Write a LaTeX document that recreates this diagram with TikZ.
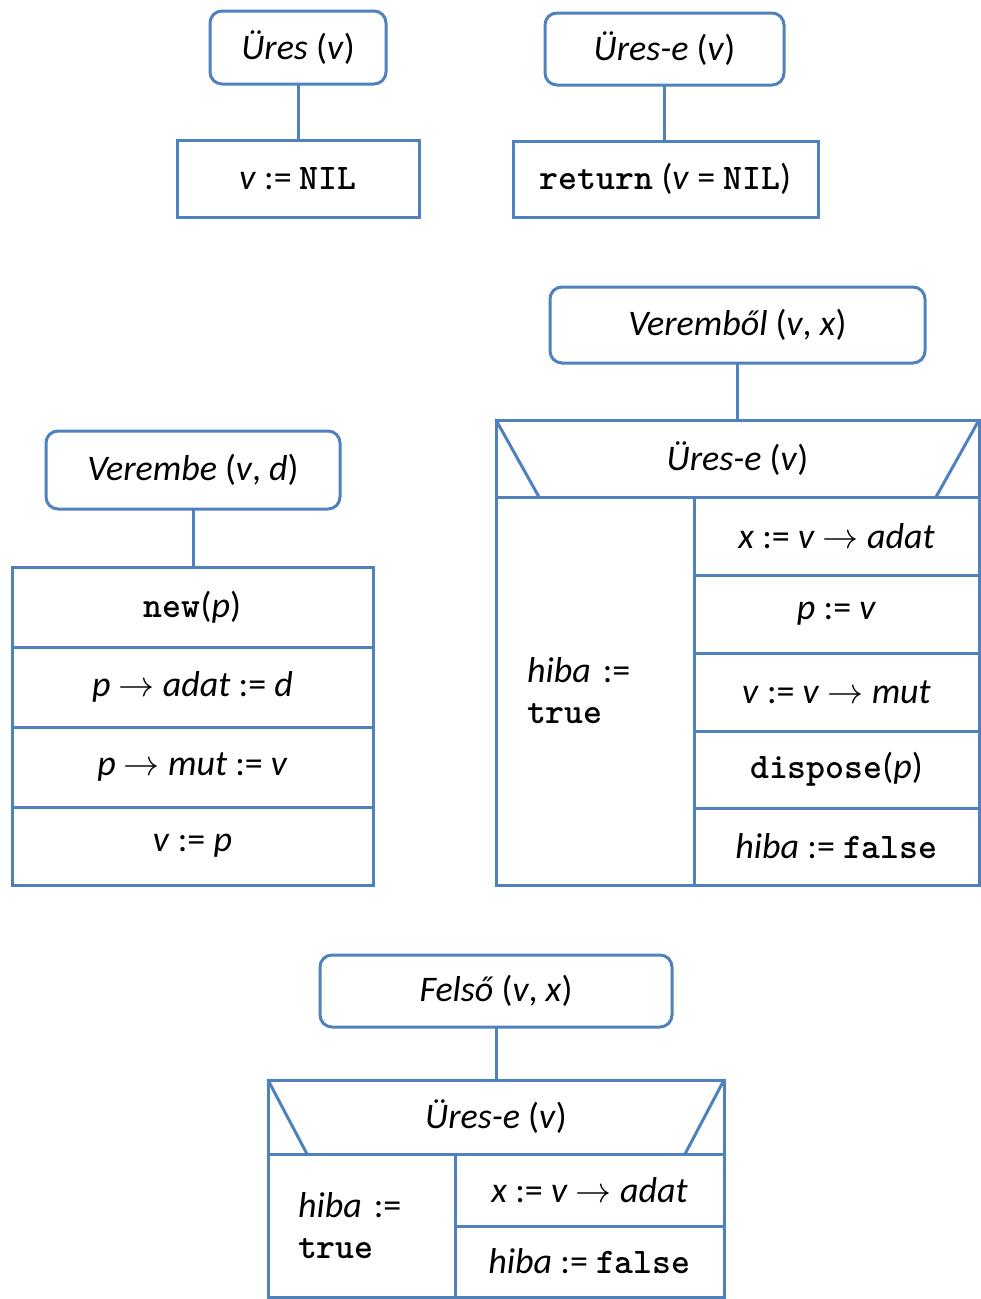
\RequirePackage{fix-cm}
\documentclass[tikz,border=0pt]{standalone}
\usepackage{fontspec}
\setmainfont{Carlito}
\usetikzlibrary{calc}
\definecolor{nsblue}{RGB}{79,129,189}
\newcommand{\iv}[1]{\textit{#1}}
\newcommand{\kw}[1]{{\ttfamily\bfseries #1}}
\newcommand{\arr}{\ensuremath{\rightarrow}}
\tikzset{
  every node/.style={font=\fontsize{36}{41}\selectfont, inner sep=0pt, outer sep=0pt},
  cell/.style 2 args={draw=nsblue, line width=3pt, rectangle,
    minimum width=#1, minimum height=#2},
  head/.style 2 args={cell={#1}{#2}, rounded corners=12pt},
  sidecell/.style n args={3}{cell={#1}{#2}, align=left, text width=#3},
  conn/.style={draw=nsblue, line width=3pt},
  slant/.style={draw=nsblue, line width=3pt, line cap=round},
}
\begin{document}
\begin{tikzpicture}[x=1pt, y=-1pt]
\useasboundingbox (0,0) rectangle (981,1299);

% Üres
\node[head={176}{73}] (uresH) at (298,47.5) {\iv{Üres} (\iv{v})};
\node[cell={242}{77}] (uresB) at (298,178.5) {\iv{v} := \kw{NIL}};
\draw[conn] (uresH.south) -- (uresH.south |- uresB.north);

% Üres-e
\node[head={239}{72}] (ureseH) at (664.5,49) {\iv{Üres-e} (\iv{v})};
\node[cell={305}{76}] (ureseB) at (665.5,179) {\kw{return} (\iv{v} = \kw{NIL})};
\draw[conn] (ureseH.south) -- (ureseH.south |- ureseB.north);

% Verembe
\node[head={294}{78}] (vbeH) at (193,470) {\iv{Verembe} (\iv{v}, \iv{d})};
\node[cell={361}{80}] (vbe1) at (192.5,607) {\kw{new}(\iv{p})};
\node[cell={361}{80}] (vbe2) at (192.5,687) {\iv{p} \arr\ \iv{adat} := \iv{d}};
\node[cell={361}{80}] (vbe3) at (192.5,767) {\iv{p} \arr\ \iv{mut} := \iv{v}};
\node[cell={361}{78}] (vbe4) at (192.5,846) {\iv{v} := \iv{p}};
\draw[conn] (vbeH.south) -- (vbeH.south |- vbe1.north);

% Veremből
\node[head={375}{76}] (vbolH) at (737.5,325) {\iv{Veremből} (\iv{v}, \iv{x})};
\node[cell={483}{77}] (vbolC) at (737.5,458.5) {\iv{Üres-e} (\iv{v})};
\draw[slant] (vbolC.north west) -- ($(vbolC.south west)+(43,0)$);
\draw[slant] (vbolC.north east) -- ($(vbolC.south east)+(-43,0)$);
\node[sidecell={198}{388}{136}] (vbolL) at (595,691) {\iv{hiba} :=\\\kw{true}};
\node[cell={285}{78}] (vbol1) at (836.5,536) {\iv{x} := \iv{v} \arr\ \iv{adat}};
\node[cell={285}{78}] (vbol2) at (836.5,614) {\iv{p} := \iv{v}};
\node[cell={285}{78}] (vbol3) at (836.5,692) {\iv{v} := \iv{v} \arr\ \iv{mut}};
\node[cell={285}{77}] (vbol4) at (836.5,769.5) {\kw{dispose}(\iv{p})};
\node[cell={285}{77}] (vbol5) at (836.5,846.5) {\iv{hiba} := \kw{false}};
\draw[conn] (vbolH.south) -- (vbolH.south |- vbolC.north);

% Felső
\node[head={352}{72}] (felH) at (496,991) {\iv{Felső} (\iv{v}, \iv{x})};
\node[cell={456}{74}] (felC) at (496,1117) {\iv{Üres-e} (\iv{v})};
\draw[slant] (felC.north west) -- ($(felC.south west)+(39,0)$);
\draw[slant] (felC.north east) -- ($(felC.south east)+(-39,0)$);
\node[sidecell={187}{143}{127}] (felL) at (361.5,1225.5) {\iv{hiba} :=\\\kw{true}};
\node[cell={269}{72}] (fel1) at (589.5,1190) {\iv{x} := \iv{v} \arr\ \iv{adat}};
\node[cell={269}{71}] (fel2) at (589.5,1261.5) {\iv{hiba} := \kw{false}};
\draw[conn] (felH.south) -- (felH.south |- felC.north);
\end{tikzpicture}
\end{document}
